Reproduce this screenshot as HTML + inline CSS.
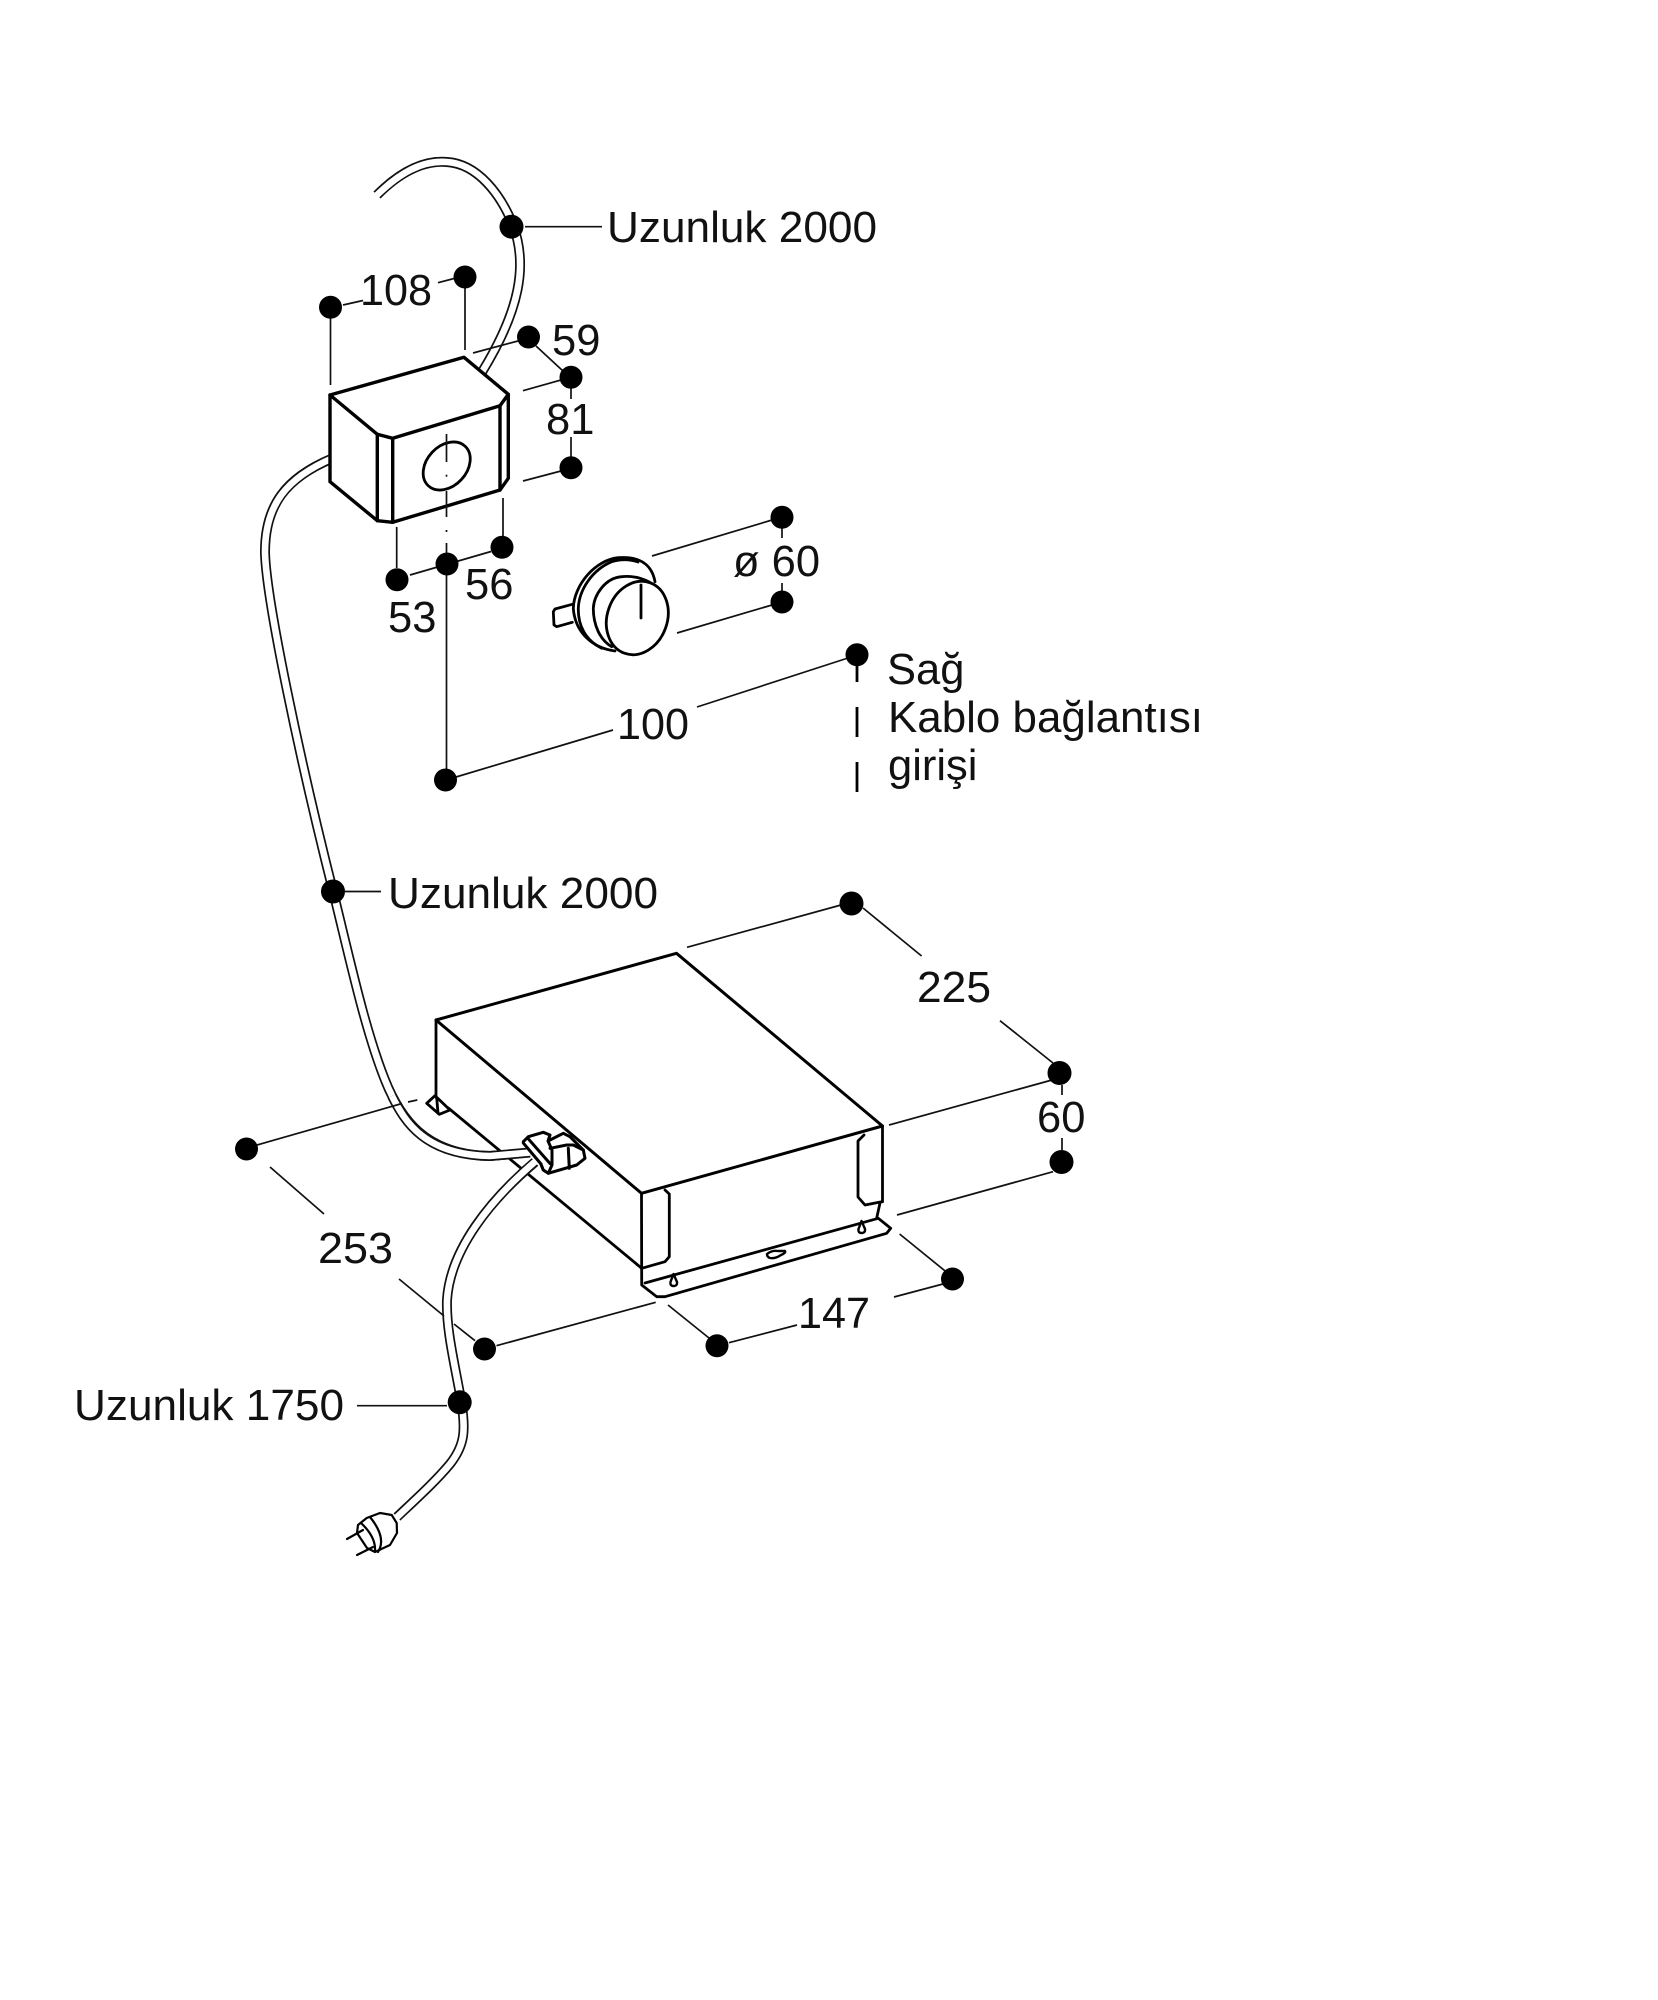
<!DOCTYPE html>
<html><head><meta charset="utf-8">
<style>
html,body{margin:0;padding:0;background:#fff;width:1658px;height:2000px;overflow:hidden}
svg{display:block}
text{font-family:"Liberation Sans",sans-serif;font-size:43.5px;fill:#111}
.t{fill:none;stroke:#111;stroke-width:1.7}
.h{fill:none;stroke:#000;stroke-width:3.4;stroke-linejoin:round;stroke-linecap:round}
.m{fill:none;stroke:#000;stroke-width:2.8;stroke-linejoin:round;stroke-linecap:round}
.co{fill:none;stroke:#111;stroke-width:10}
.ci{fill:none;stroke:#fff;stroke-width:6.6}
</style></head><body>
<svg width="1658" height="2000" viewBox="0 0 1658 2000" xmlns="http://www.w3.org/2000/svg">
<rect width="1658" height="2000" fill="#fff"/>

<!-- cable 1 -->
<path class="co" d="M377 195C400 172 423 160 447 162C478 164 501 195 513 225C528 265 520 310 482 372"/>
<path class="ci" d="M375 197C400 172 423 160 447 162C478 164 501 195 513 225C528 265 520 310 482 372"/>

<!-- cable 2 -->
<path class="co" d="M331 459C286 478 265 505 265 552C266 600 300 760 333 891C350 960 365 1030 385 1080C400 1118 425 1155 490 1156L530 1152.5"/>
<path class="ci" d="M333 458C286 478 265 505 265 552C266 600 300 760 333 891C350 960 365 1030 385 1080C400 1118 425 1155 490 1156L530 1152.5"/>

<!-- dimension lines, upper -->
<g class="t">
<line x1="525" y1="226.7" x2="602" y2="226.7"/>
<line x1="330.5" y1="307" x2="330.5" y2="385"/>
<line x1="343" y1="305" x2="363" y2="300.5"/>
<line x1="438" y1="282.7" x2="456" y2="278"/>
<line x1="465" y1="285" x2="465" y2="350"/>
<line x1="473" y1="353" x2="518" y2="341"/>
<line x1="536" y1="346" x2="563" y2="371"/>
<line x1="523" y1="390.7" x2="561" y2="380"/>
<line x1="571" y1="388" x2="571" y2="399"/>
<line x1="571" y1="437" x2="571" y2="457"/>
<line x1="523" y1="481" x2="561" y2="471"/>
<line x1="503" y1="498" x2="503" y2="537"/>
<line x1="396.7" y1="527" x2="396.7" y2="568"/>
<line x1="410" y1="575" x2="491" y2="551.5"/>
<line x1="446.5" y1="564" x2="446.5" y2="780"/>
<line x1="652" y1="556" x2="772" y2="520"/>
<line x1="677" y1="633" x2="772" y2="605"/>
<line x1="782" y1="528" x2="782" y2="538"/>
<line x1="782" y1="583" x2="782" y2="591"/>
<line x1="697" y1="707" x2="848" y2="658"/>
<line x1="613" y1="730" x2="446" y2="780"/>
<line x1="345" y1="891.5" x2="381" y2="891.5"/>
</g>
<g style="stroke:#000;stroke-width:2.8;fill:none">
<line x1="857" y1="666" x2="857" y2="682"/>
<line x1="857" y1="707" x2="857" y2="737"/>
<line x1="857" y1="762" x2="857" y2="792"/>
</g>

<!-- control box -->
<path d="M330 395L464 357.3L508.3 394.3V478.3L500 490L392.7 522.3L377.3 520.7L330 481.7Z" fill="#fff"/>
<g class="h">
<path d="M330 395L464 357.3L508.3 394.3L500 405.7L392.7 438.3L377.3 434.3Z"/>
<path d="M330 395V481.7L377.3 520.7L392.7 522.3L500 490L508.3 478.3V394.3"/>
<path d="M377.3 434.3V520.7M392.7 438.3V522.3M500 405.7V490"/>
</g>
<ellipse cx="446.7" cy="466" rx="27" ry="20" transform="rotate(-47 446.7 466)" class="m"/>
<g class="t">
<line x1="446.5" y1="434" x2="446.5" y2="462"/>
<line x1="446.5" y1="491" x2="446.5" y2="517"/>
<line x1="446.5" y1="474.7" x2="446.5" y2="476.7"/>
<line x1="446.5" y1="530" x2="446.5" y2="532"/>
<line x1="446.5" y1="543" x2="446.5" y2="564"/>
</g>

<!-- knob -->
<path class="m" d="M572.3 604.3L555 609L553.3 611.7L554 625L556.7 626.7L572.3 622.3"/>
<path class="m" fill="#fff" style="fill:#fff" d="M615 651C592 648 575 632 573.3 608.3C574 585 595 560 618.3 557.7C640 556 652 565 655 581.7"/>
<path class="m" d="M601.7 648.3C585 640 578 625 578.3 608.3C579 590 592 570 611.7 561.7C620 559 630 559 638 562"/>
<path class="m" d="M611.7 646.7C600 640 593.3 625 593.3 608.3C594 595 605 578 621.7 576.7C635 575 648 580 656.7 586.7"/>
<ellipse cx="637.3" cy="618" rx="30" ry="37.5" transform="rotate(20 637.3 618)" class="m" style="fill:#fff"/>
<line x1="641" y1="585" x2="641" y2="618" class="m"/>

<!-- unit box -->
<path d="M436 1020L676.5 953.3L882.5 1126V1201L878 1218L890.7 1228.3L886.7 1233.3L665 1296.7L656.7 1296.7L641.7 1285V1268L445 1108L436 1097Z" fill="#fff"/>
<g class="m">
<path d="M426.7 1103.3L435 1095.7L450 1110L439.3 1114.3Z"/>
<path d="M436.7 1098L438 1113"/>
<path d="M448.3 1108L641.7 1268.3"/>
<path d="M641.5 1193.3L641.7 1285L656.7 1296.7L665 1296.7L886.7 1233.3L890.7 1228.3L878.3 1218.3L645 1283"/>
<path d="M436 1020V1097"/>
<path d="M882.5 1126V1201.7"/>
<path d="M880 1203L876.7 1218"/>
<path d="M864 1135L858 1141V1197L865 1205L881.7 1201.7"/>
<path d="M665 1190L669.3 1194V1256.7L665 1261.7L641.7 1268.3"/>
</g>
<g class="h">
<path d="M436 1020L676.5 953.3L882.5 1126L641.5 1193.3Z" style="stroke-width:3"/>
</g>
<g style="fill:#fff;stroke:#000;stroke-width:2.4;stroke-linejoin:round">
<path d="M673.5 1274L677 1282Q677.5 1286 673.5 1286Q670 1286 670.5 1282Z"/>
<path d="M861.5 1221L865 1229Q865.5 1233 861.5 1233Q858 1233 858.5 1229Z"/>
<path d="M767 1254Q772 1250 778 1251L785 1251Q786 1253 781 1255Q775 1259 770 1258Q767 1257 767 1254Z"/>
</g>

<!-- cable 2 end over unit edge -->
<path class="co" d="M392 1096C405 1122 425 1155 490 1156L530 1152.5"/>
<path class="ci" d="M392 1096C405 1122 425 1155 490 1156L530 1152.5"/>

<!-- cable 3 -->
<path class="co" d="M535 1162C490 1200 450 1250 447 1300C446 1330 455 1365 461 1400C466 1430 465 1445 450 1464C435 1482 415 1500 397 1517"/>
<path class="ci" d="M537 1160C490 1200 450 1250 447 1300C446 1330 455 1365 461 1400C466 1430 465 1445 450 1464C435 1482 415 1500 395 1519"/>

<!-- connector -->
<g class="m" style="stroke-width:3">
<path style="fill:#fff" d="M550 1140L563.3 1133.3L570 1136.7L583.3 1150L585 1158.3L576.7 1165L548.3 1173.3L543.3 1170L535 1150Z"/>
<path style="fill:#fff" d="M523.3 1141.7L528.3 1136.7L543.3 1132.3L550 1135L548 1141L552 1150L552 1165L548.3 1173.3L543.3 1170L541 1164L523.3 1143Z"/>
<path d="M528 1138.5L550 1163.5"/>
<path d="M550 1148.3L566.7 1145L573.3 1145L583.3 1150"/>
<path d="M568.3 1148.3L569.3 1168.3"/>
</g>

<!-- plug -->
<g class="m" style="stroke-width:2.2">
<path style="fill:#fff" d="M396.7 1523L391.7 1515L380 1513L366.7 1518L358 1525L357 1533L367 1548L375 1552L390 1545L397 1533Z"/>
<path d="M370 1517Q387 1538 378 1552"/>
<path d="M361 1523Q376 1537 375 1551"/>
<path d="M347 1539L363 1530"/>
<path d="M357 1555L373 1547"/>
</g>

<!-- dimension lines, lower -->
<g class="t">
<line x1="687" y1="947.3" x2="841" y2="905"/>
<line x1="863" y1="908" x2="921.6" y2="956"/>
<line x1="1000" y1="1020.7" x2="1053" y2="1063"/>
<line x1="889" y1="1125" x2="1052" y2="1080"/>
<line x1="1062" y1="1085" x2="1062" y2="1095"/>
<line x1="1062" y1="1138" x2="1062" y2="1150"/>
<line x1="897" y1="1215" x2="1053" y2="1171.7"/>
<line x1="899.6" y1="1234" x2="946" y2="1271.7"/>
<line x1="894" y1="1297" x2="943" y2="1284"/>
<line x1="797" y1="1325" x2="729" y2="1342.7"/>
<line x1="668" y1="1305" x2="709" y2="1338"/>
<line x1="655.7" y1="1302.3" x2="496.5" y2="1345.7"/>
<line x1="257" y1="1145" x2="402" y2="1103.5"/>
<line x1="408" y1="1102" x2="417.3" y2="1100"/>
<line x1="270" y1="1167" x2="324" y2="1214"/>
<line x1="399" y1="1279" x2="444" y2="1316"/>
<line x1="454" y1="1324" x2="475" y2="1340.7"/>
<line x1="357" y1="1405.7" x2="447" y2="1405.7"/>
</g>

<!-- dots -->
<g fill="#000">
<circle cx="511.5" cy="226.7" r="12"/>
<circle cx="330.5" cy="307.3" r="11.5"/>
<circle cx="465" cy="277" r="11.5"/>
<circle cx="528.5" cy="337" r="11.5"/>
<circle cx="571" cy="377.3" r="11.5"/>
<circle cx="571" cy="467.7" r="11.5"/>
<circle cx="502" cy="547.3" r="11.5"/>
<circle cx="447" cy="564" r="11.5"/>
<circle cx="397" cy="579.7" r="11.5"/>
<circle cx="782" cy="517.3" r="11.5"/>
<circle cx="782" cy="602" r="11.5"/>
<circle cx="857" cy="654.7" r="11.5"/>
<circle cx="445.5" cy="780" r="11.5"/>
<circle cx="333" cy="891.5" r="12"/>
<circle cx="851.5" cy="903.5" r="12"/>
<circle cx="1059.5" cy="1073" r="12"/>
<circle cx="1061.5" cy="1162" r="12"/>
<circle cx="952.5" cy="1279" r="11.5"/>
<circle cx="717" cy="1345.7" r="11.5"/>
<circle cx="484.5" cy="1349" r="11.5"/>
<circle cx="246.5" cy="1149" r="11.5"/>
<circle cx="459.7" cy="1402.3" r="12"/>
</g>

<!-- labels -->
<text x="607" y="242" textLength="270" lengthAdjust="spacingAndGlyphs">Uzunluk 2000</text>
<text x="360" y="305" textLength="72" lengthAdjust="spacingAndGlyphs">108</text>
<text x="552" y="355">59</text>
<text x="546" y="434">81</text>
<text x="465" y="599">56</text>
<text x="388" y="632">53</text>
<text x="733" y="576">ø 60</text>
<text x="617" y="739" textLength="72" lengthAdjust="spacingAndGlyphs">100</text>
<text x="887" y="684">Sağ</text>
<text x="888" y="732" textLength="315" lengthAdjust="spacingAndGlyphs">Kablo bağlantısı</text>
<text x="888" y="780">girişi</text>
<text x="388" y="908" textLength="270" lengthAdjust="spacingAndGlyphs">Uzunluk 2000</text>
<text x="917" y="1002" textLength="74" lengthAdjust="spacingAndGlyphs">225</text>
<text x="1037" y="1132">60</text>
<text x="318" y="1263" textLength="75" lengthAdjust="spacingAndGlyphs">253</text>
<text x="798" y="1328" textLength="72" lengthAdjust="spacingAndGlyphs">147</text>
<text x="74" y="1420" textLength="270" lengthAdjust="spacingAndGlyphs">Uzunluk 1750</text>
</svg>
</body></html>
